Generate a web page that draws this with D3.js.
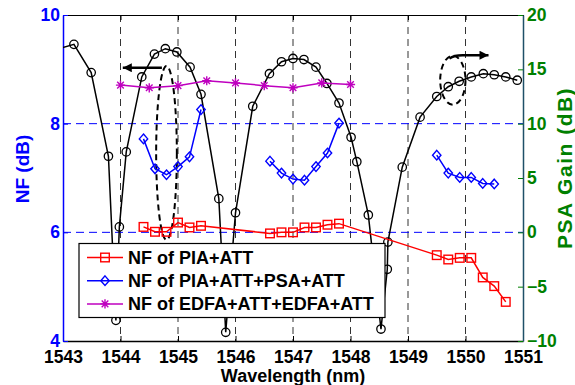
<!DOCTYPE html>
<html><head><meta charset="utf-8">
<script src="https://cdn.jsdelivr.net/npm/d3@7"></script>
<style>
body{margin:0;background:#fff;}
svg{display:block;font-family:"Liberation Sans",Arial,sans-serif;font-weight:bold;}
</style></head>
<body><svg id="c" width="575" height="385"></svg>
<script>
// ---- data ----
const xTicks = [1543,1544,1545,1546,1547,1548,1549,1550,1551];
const nfTicks = [4,6,8,10];
const gainTicks = [-10,-5,0,5,10,15,20];

const gainWl = [1542.8,1543.19,1543.49,1543.79,1543.92,1543.98,1544.10,1544.37,1544.59,1544.78,1544.98,1545.21,1545.40,1545.71,1545.83,1546.00,1546.30,1546.59,1546.80,1547.00,1547.19,1547.40,1547.59,1547.80,1548.01,1548.11,1548.31,1548.53,1548.64,1548.65,1548.90,1549.21,1549.50,1549.70,1549.89,1550.10,1550.31,1550.50,1550.70,1550.90];
const gainDb = [16.7,17.3,14.7,7.0,-8.1,0.5,7.4,14.3,16.4,16.9,16.6,15.2,12.7,3.1,-9.2,1.8,11.6,14.6,15.7,16.0,15.9,15.2,13.7,11.9,8.75,6.5,1.6,-8.9,-3.4,-0.9,6.0,10.6,12.5,13.4,13.9,14.3,14.6,14.5,14.3,14.0];

const redWl = [1544.4,1544.6,1544.8,1545.0,1545.2,1545.4,1546.6,1546.8,1547.0,1547.2,1547.4,1547.6,1547.8,1549.5,1549.7,1549.9,1550.1,1550.3,1550.5,1550.7];
const redNF = [6.10,6.01,6.01,6.18,6.09,6.12,5.98,6.00,6.00,6.09,6.09,6.14,6.16,5.58,5.50,5.53,5.53,5.17,5.01,4.72];

const blueWl = [1544.4,1544.6,1544.8,1545.0,1545.2,1545.4,null,1546.6,1546.8,1547.0,1547.2,1547.4,1547.6,1547.8,null,1549.5,1549.7,1549.9,1550.1,1550.3,1550.5];
const blueNF = [7.72,7.17,7.06,7.21,7.39,8.26,null,7.31,7.09,6.98,6.96,7.21,7.46,8.01,null,7.42,7.09,7.01,7.01,6.90,6.89];

const magWl = [1544.0,1544.5,1545.0,1545.5,1546.0,1546.5,1547.0,1547.5,1548.0];
const magNF = [8.71,8.66,8.70,8.79,8.75,8.70,8.66,8.75,8.72];

const legendLabels = ["NF of PIA+ATT","NF of PIA+ATT+PSA+ATT","NF of EDFA+ATT+EDFA+ATT"];

// ---- layout ----
const W=575,H=385, L=63, R=523, T=15, B=341;
const svg = d3.select("#c");
const x = d3.scaleLinear().domain([1543,1551]).range([L,R]);
const yL = d3.scaleLinear().domain([4,10]).range([B,T]);
const yR = d3.scaleLinear().domain([-10,20]).range([B,T]);
const RED="#ff0000", BLUE="#0000ff", MAG="#bf00bf", GREEN="#008000";
const FS = 17.5;

svg.append("defs").append("clipPath").attr("id","clip")
  .append("rect").attr("x",L).attr("y",T).attr("width",R-L).attr("height",B-T);

// grid
const grid = svg.append("g");
grid.selectAll("line.v").data(xTicks.slice(1,-1)).join("line")
  .attr("x1",d=>x(d)).attr("x2",d=>x(d)).attr("y1",T).attr("y2",B)
  .attr("stroke","#333").attr("stroke-width",1).attr("stroke-dasharray","7,5");
grid.selectAll("line.h").data([6,8]).join("line")
  .attr("x1",L).attr("x2",R).attr("y1",d=>yL(d)).attr("y2",d=>yL(d))
  .attr("stroke",BLUE).attr("stroke-width",1).attr("stroke-dasharray","8,5");

// axes
const gx = svg.append("g").attr("transform",`translate(0,${B})`)
  .call(d3.axisBottom(x).tickValues(xTicks).tickFormat(d3.format("d")).tickSizeInner(-5).tickSizeOuter(0).tickPadding(10));
gx.select(".domain").attr("stroke","#000").attr("stroke-width",1.5);
gx.selectAll("line").attr("stroke","#000");
gx.selectAll("text").attr("font-size",FS).attr("font-family",null).attr("fill","#000");

const gt = svg.append("g").attr("transform",`translate(0,${T})`)
  .call(d3.axisTop(x).tickValues(xTicks).tickSizeInner(-5).tickSizeOuter(0).tickFormat(""));
gt.select(".domain").attr("stroke","#000").attr("stroke-width",1.2);
gt.selectAll("line").attr("stroke","#000");

const gl = svg.append("g").attr("transform",`translate(${L},0)`)
  .call(d3.axisLeft(yL).tickValues(nfTicks).tickFormat(d3.format("d")).tickSizeInner(-5).tickSizeOuter(0).tickPadding(3));
gl.select(".domain").attr("stroke",BLUE).attr("stroke-width",1.5);
gl.selectAll("line").attr("stroke",BLUE);
gl.selectAll("text").attr("font-size",FS).attr("font-family",null).attr("fill",BLUE);

const gr = svg.append("g").attr("transform",`translate(${R},0)`)
  .call(d3.axisRight(yR).tickValues(gainTicks).tickFormat(d3.format("d")).tickSizeInner(-5).tickSizeOuter(0).tickPadding(4));
gr.select(".domain").attr("stroke","#1f5068").attr("stroke-width",1.5);
gr.selectAll("line").attr("stroke",GREEN);
gr.selectAll("text").attr("font-size",FS).attr("font-family",null).attr("fill",GREEN);

// axis titles
svg.append("text").attr("x",(L+R)/2).attr("y",382).attr("text-anchor","middle")
  .attr("font-size",18).attr("fill","#000").text("Wavelength (nm)");
svg.append("text").attr("transform","translate(29,169) rotate(-90)").attr("text-anchor","middle")
  .attr("font-size",19).attr("fill",BLUE).text("NF (dB)");
svg.append("text").attr("transform","translate(572,168) rotate(-90)").attr("text-anchor","middle")
  .attr("font-size",21).attr("letter-spacing",1.5).attr("fill",GREEN).text("PSA Gain (dB)");

// series
const plot = svg.append("g").attr("clip-path","url(#clip)");
const gainPts = gainWl.map((w,i)=>[w,gainDb[i]]);
plot.append("path").datum(gainPts)
  .attr("d",d3.line().x(d=>x(d[0])).y(d=>yR(d[1])))
  .attr("fill","none").attr("stroke","#000").attr("stroke-width",1.5);
plot.selectAll("circle.g").data(gainPts).join("circle")
  .attr("cx",d=>x(d[0])).attr("cy",d=>yR(d[1])).attr("r",4.2)
  .attr("fill","none").attr("stroke","#000").attr("stroke-width",1.3);

// annotations (dashed ellipses + arrows)
const ann = svg.append("g");
ann.append("defs").append("marker").attr("id","ah").attr("viewBox","0 0 10 10")
  .attr("refX",10).attr("refY",5).attr("markerWidth",17).attr("markerHeight",9)
  .attr("markerUnits","userSpaceOnUse").attr("orient","auto")
  .append("path").attr("d","M0,0L10,5L0,10Z").attr("fill","#000");
ann.append("ellipse").attr("cx",x(1544.80)).attr("cy",yL(7.46))
  .attr("rx",x(1544.98)-x(1544.80)).attr("ry",yL(7.46)-yL(9.06))
  .attr("fill","none").attr("stroke","#000").attr("stroke-width",2).attr("stroke-dasharray","6,4");
ann.append("line").attr("x1",x(1544.72)).attr("y1",yL(9.03)).attr("x2",x(1544.04)).attr("y2",yL(9.03))
  .attr("stroke","#000").attr("stroke-width",2.5).attr("marker-end","url(#ah)");
ann.append("ellipse").attr("cx",x(1549.78)).attr("cy",yR(14.0))
  .attr("rx",x(1550.0)-x(1549.78)).attr("ry",yR(14.0)-yR(16.25))
  .attr("fill","none").attr("stroke","#000").attr("stroke-width",2).attr("stroke-dasharray","6,4");
ann.append("path")
  .attr("d",`M${x(1549.72)},${yR(16.0)} Q${x(1549.8)},${yR(16.3)} ${x(1549.95)},${yR(16.3)} L${x(1550.4)},${yR(16.3)}`)
  .attr("fill","none").attr("stroke","#000").attr("stroke-width",2.5).attr("marker-end","url(#ah)");

// NF series
const lineNF = d3.line().defined(d=>d[0]!=null).x(d=>x(d[0])).y(d=>yL(d[1]));
const redPts = redWl.map((w,i)=>[w,redNF[i]]);
const bluePts = blueWl.map((w,i)=>[w,blueNF[i]]);
const magPts = magWl.map((w,i)=>[w,magNF[i]]);

function square(g,cx,cy,c){ g.append("rect").attr("x",cx-4.3).attr("y",cy-4.3).attr("width",8.6).attr("height",8.6)
  .attr("fill","none").attr("stroke",c).attr("stroke-width",1.4); }
function diamond(g,cx,cy,c){ g.append("path").attr("d",`M${cx},${cy-4.8}L${cx+4.2},${cy}L${cx},${cy+4.8}L${cx-4.2},${cy}Z`)
  .attr("fill","none").attr("stroke",c).attr("stroke-width",1.4); }
function star(g,cx,cy,c){ const r=4.6,s=r*0.72;
  g.append("path").attr("d",`M${cx-r},${cy}L${cx+r},${cy}M${cx},${cy-r}L${cx},${cy+r}M${cx-s},${cy-s}L${cx+s},${cy+s}M${cx-s},${cy+s}L${cx+s},${cy-s}`)
  .attr("stroke",c).attr("stroke-width",1.4); }

const nfG = svg.append("g");
nfG.append("path").datum(magPts).attr("d",lineNF).attr("fill","none").attr("stroke",MAG).attr("stroke-width",1.5);
magPts.forEach(d=>star(nfG,x(d[0]),yL(d[1]),MAG));
nfG.append("path").datum(bluePts).attr("d",lineNF).attr("fill","none").attr("stroke",BLUE).attr("stroke-width",1.5);
bluePts.filter(d=>d[0]!=null).forEach(d=>diamond(nfG,x(d[0]),yL(d[1]),BLUE));
nfG.append("path").datum(redPts).attr("d",lineNF).attr("fill","none").attr("stroke",RED).attr("stroke-width",1.5);
redPts.forEach(d=>square(nfG,x(d[0]),yL(d[1]),RED));

// legend
const lg = svg.append("g");
lg.append("rect").attr("x",79).attr("y",243.5).attr("width",306).attr("height",74)
  .attr("fill","#fff").attr("stroke","#000").attr("stroke-width",1.2);
const legC=[RED,BLUE,MAG], legM=[square,diamond,star];
legendLabels.forEach((t,i)=>{
  const cy = 257.5 + i*23.2;
  lg.append("line").attr("x1",87).attr("x2",123).attr("y1",cy).attr("y2",cy).attr("stroke",legC[i]).attr("stroke-width",1.5);
  legM[i](lg,105,cy,legC[i]);
  lg.append("text").attr("x",128).attr("y",cy+6.5).attr("font-size",18).attr("fill","#000").text(t);
});
</script></body></html>
